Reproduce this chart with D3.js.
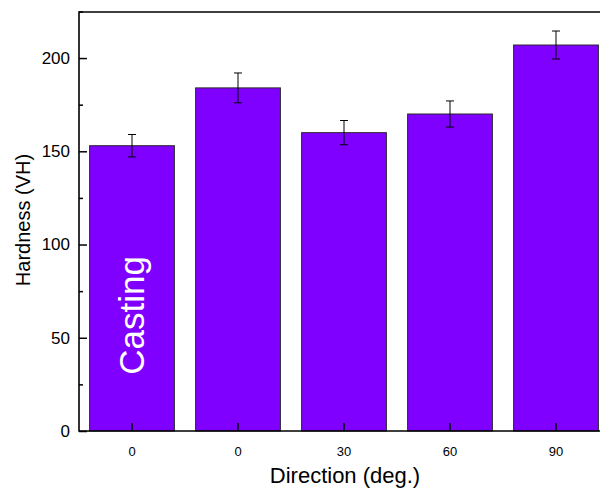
<!DOCTYPE html>
<html><head><meta charset="utf-8">
<script src="https://cdn.jsdelivr.net/npm/d3@7"></script>
<style>body{margin:0;background:#fff}svg{display:block}text{font-family:"Liberation Sans",Arial,sans-serif}</style>
</head><body><svg id="c" width="600" height="488"></svg>
<script>
const categories = ["0", "0", "30", "60", "90"];
const hardness = [153, 184, 160, 170, 207];
const errors = [6, 8, 6.5, 7, 7.5];
const yTicks = [0, 50, 100, 150, 200];
const yMinorTicks = [25, 75, 125, 175, 225];

const svg = d3.select("#c");
const pLeft = 79, pTop = 12, pBottom = 431, bandW = 106;
const x = d3.scaleBand().domain(d3.range(categories.length)).range([pLeft, pLeft + bandW * categories.length]).paddingInner(0.2).paddingOuter(0.1);
const y = d3.scaleLinear().domain([0, 224.7]).range([pBottom, pTop]);

const g = svg.append("g");
// bars
g.selectAll("rect.bar").data(hardness).join("rect")
  .attr("x", (d, i) => x(i)).attr("y", d => y(d))
  .attr("width", x.bandwidth()).attr("height", d => y(0) - y(d))
  .attr("fill", "#7F00FF").attr("stroke", "#2a2a2a").attr("stroke-width", 1);

// error bars
const eb = g.selectAll("g.err").data(hardness).join("g");
eb.append("line").attr("x1", (d, i) => x(i) + x.bandwidth() / 2).attr("x2", (d, i) => x(i) + x.bandwidth() / 2)
  .attr("y1", (d, i) => y(d + errors[i])).attr("y2", (d, i) => y(d - errors[i])).attr("stroke", "#000").attr("stroke-width", 1);
[1, -1].forEach(s => {
  eb.append("line").attr("x1", (d, i) => x(i) + x.bandwidth() / 2 - 4).attr("x2", (d, i) => x(i) + x.bandwidth() / 2 + 4)
    .attr("y1", (d, i) => y(d + s * errors[i])).attr("y2", (d, i) => y(d + s * errors[i])).attr("stroke", "#000").attr("stroke-width", 1);
});

// Casting label
g.append("text").attr("transform", `translate(${x(0) + x.bandwidth() / 2 + 12},${y(62)}) rotate(-90)`)
  .attr("text-anchor", "middle").attr("fill", "#fff").attr("font-size", 35).text("Casting");

// y axis
const yAxis = d3.axisLeft(y).tickValues(yTicks).tickSize(-8).tickPadding(9).tickFormat(d3.format("d"));
const ya = svg.append("g").attr("transform", `translate(${pLeft},0)`).call(yAxis);
ya.select(".domain").remove();
ya.selectAll(".tick line").attr("stroke", "#000").attr("stroke-width", 1.5);
ya.selectAll(".tick text").attr("font-size", 17).attr("fill", "#000").attr("font-family", '"Liberation Sans",Arial,sans-serif');
const yMin = d3.axisLeft(y).tickValues(yMinorTicks).tickSize(-4).tickFormat("");
const ym = svg.append("g").attr("transform", `translate(${pLeft},0)`).call(yMin);
ym.select(".domain").remove();
ym.selectAll(".tick line").attr("stroke", "#000").attr("stroke-width", 1.5);

// x axis
const xAxis = d3.axisBottom(x).tickFormat(i => categories[i]).tickSize(-8).tickPadding(16);
const xa = svg.append("g").attr("transform", `translate(0,${pBottom})`).call(xAxis);
xa.select(".domain").remove();
xa.selectAll(".tick line").attr("stroke", "#000").attr("stroke-width", 1.5);
xa.selectAll(".tick text").attr("font-size", 13).attr("fill", "#000").attr("font-family", '"Liberation Sans",Arial,sans-serif');

// frame
svg.append("path").attr("d", `M600,${pTop}H${pLeft}V${pBottom}H600`).attr("fill", "none").attr("stroke", "#000").attr("stroke-width", 1.6);

// axis titles
svg.append("text").attr("x", 345).attr("y", 483).attr("text-anchor", "middle").attr("font-size", 22).text("Direction (deg.)");
svg.append("text").attr("transform", `translate(30,220) rotate(-90)`).attr("text-anchor", "middle").attr("font-size", 20).text("Hardness (VH)");
</script></body></html>
